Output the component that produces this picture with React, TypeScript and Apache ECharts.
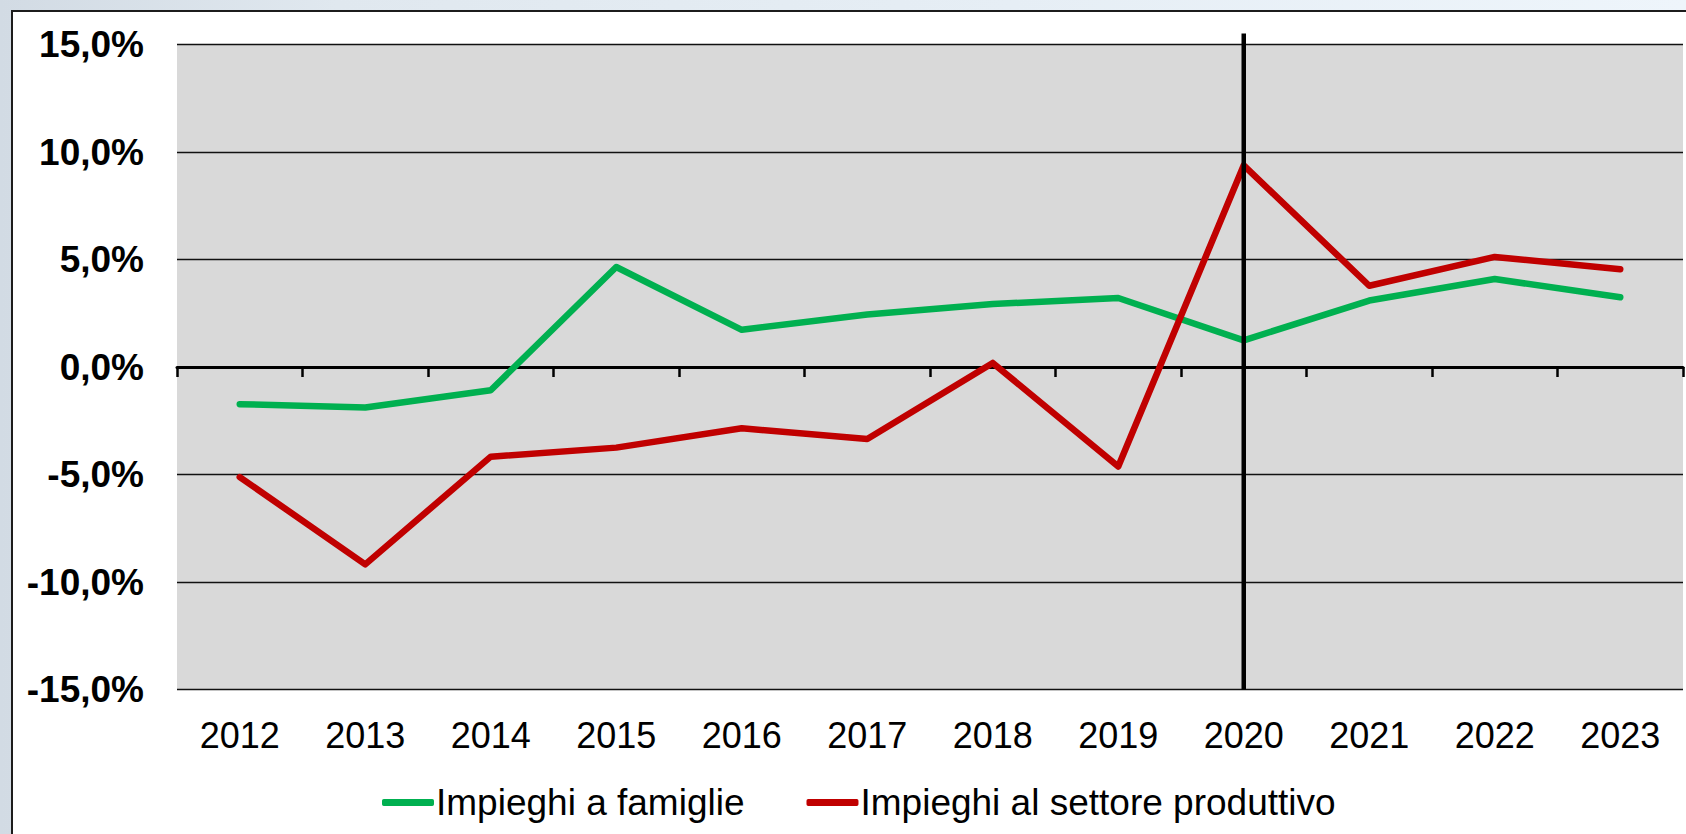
import React, { useEffect, useRef } from "react";
import * as echarts from "echarts";

const years = ["2012", "2013", "2014", "2015", "2016", "2017", "2018", "2019", "2020", "2021", "2022", "2023"];
const famiglie = [-1.73, -1.88, -1.08, 4.65, 1.73, 2.44, 2.93, 3.21, 1.24, 3.09, 4.09, 3.24];
const produttivo = [-5.12, -9.18, -4.17, -3.75, -2.85, -3.35, 0.19, -4.63, 9.38, 3.78, 5.12, 4.55];
const seriesNames = ["Impieghi a famiglie", "Impieghi al settore produttivo"];
const markerYear = "2020";
const yMin = -15;
const yMax = 15;
const yStep = 5;

const FONT = "'Liberation Sans', Arial, sans-serif";

export default function App() {
  const ref = useRef<HTMLDivElement>(null);

  useEffect(() => {
    if (!ref.current) return;
    const chart = echarts.init(ref.current, undefined, { renderer: "svg" });
    chart.setOption({
      animation: false,
      backgroundColor: "transparent",
      grid: {
        left: 177,
        right: 3,
        top: 44.5,
        bottom: 144.5,
        show: true,
        backgroundColor: "#D9D9D9",
        borderWidth: 0,
        containLabel: false,
      },
      legend: {
        data: seriesNames,
        left: 377,
        top: 779,
        itemWidth: 52,
        itemHeight: 7,
        itemGap: 62,
        icon: "roundRect",
        textStyle: { fontFamily: FONT, fontSize: 37, color: "#000", padding: [0, 0, 0, -3] },
      },
      xAxis: [
        {
          type: "category",
          data: years,
          boundaryGap: true,
          axisLine: { show: true, onZero: true, lineStyle: { color: "#000", width: 3 } },
          axisTick: { show: true, length: 10, lineStyle: { color: "#000", width: 2.5 } },
          axisLabel: { show: false },
          splitLine: { show: false },
        },
        {
          type: "category",
          data: years,
          position: "bottom",
          boundaryGap: true,
          axisLine: { show: false, onZero: false },
          axisTick: { show: false },
          axisLabel: { show: true, margin: 28, fontFamily: FONT, fontSize: 36, color: "#000" },
          splitLine: { show: false },
        },
      ],
      yAxis: {
        type: "value",
        min: yMin,
        max: yMax,
        interval: yStep,
        axisLine: { show: false },
        axisTick: { show: false },
        axisLabel: {
          margin: 33,
          fontFamily: FONT,
          fontSize: 37,
          fontWeight: "bold",
          color: "#000",
          formatter: (v: number) => v.toFixed(1).replace(".", ",") + "%",
        },
        splitLine: { show: true, lineStyle: { color: "#111", width: 1.3 } },
      },
      series: [
        {
          name: seriesNames[0],
          type: "line",
          data: famiglie,
          symbol: "none",
          showSymbol: false,
          lineStyle: { color: "#00B050", width: 6.5, cap: "round", join: "round" },
          itemStyle: { color: "#00B050" },
          z: 3,
        },
        {
          name: seriesNames[1],
          type: "line",
          data: produttivo,
          symbol: "none",
          showSymbol: false,
          lineStyle: { color: "#C00000", width: 6.5, cap: "round", join: "round" },
          itemStyle: { color: "#C00000" },
          z: 4,
        },
        {
          name: "marker",
          type: "custom",
          xAxisIndex: 0,
          data: [[markerYear, yMax, yMin]],
          encode: { x: 0, y: [1, 2] },
          clip: false,
          silent: true,
          z: 10,
          renderItem: (params: any, api: any) => {
            const top = api.coord([api.value(0), api.value(1)]);
            const bottom = api.coord([api.value(0), api.value(2)]);
            return {
              type: "line",
              shape: { x1: top[0], y1: top[1] - 11, x2: bottom[0], y2: bottom[1] },
              style: { stroke: "#000", lineWidth: 4.5 },
            };
          },
        },
      ],
    });
    return () => chart.dispose();
  }, []);

  return (
    <div
      style={{
        position: "fixed",
        left: 0,
        top: 0,
        width: 1686,
        height: 834,
        overflow: "hidden",
        background: "linear-gradient(90deg, #d2dbe4 0%, #e0e8ef 20%, #e6eef5 60%, #eef5fb 100%)",
      }}
    >
      <div
        style={{
          position: "absolute",
          left: 11,
          top: 10,
          width: 1700,
          height: 860,
          background: "#fff",
          border: "2px solid #1c1c1c",
        }}
      />
      <div ref={ref} style={{ position: "absolute", left: 0, top: 0, width: 1686, height: 834 }} />
    </div>
  );
}
